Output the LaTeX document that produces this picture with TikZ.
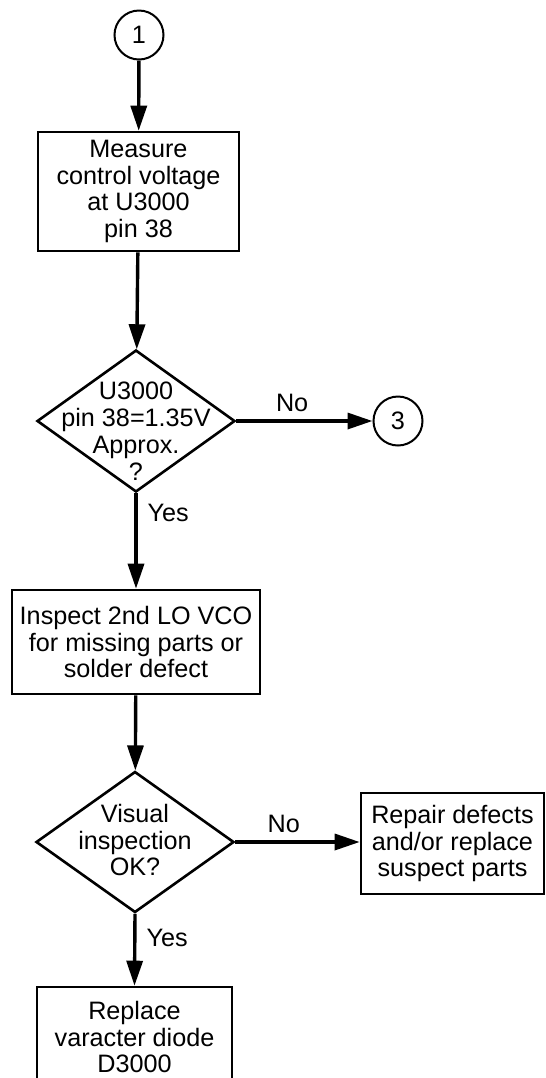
\documentclass[tikz,border=0pt]{standalone}
\usepackage{fontspec}
\setmainfont{Liberation Sans}
\usetikzlibrary{arrows.meta, positioning, shapes.geometric}

\begin{document}
\begin{tikzpicture}[
    x=0.5pt, y=-0.5pt,
    font=\fontsize{12.6}{13.4}\selectfont,
    >={Triangle[length=12.5pt, width=8pt]},
    box/.style={draw, line width=1.3pt, align=center, inner sep=0pt},
    decision/.style={draw, diamond, line width=1.3pt, inner sep=0pt, minimum width=99pt, minimum height=71pt},
    conn/.style={draw, circle, line width=1pt, minimum size=24.5pt, inner sep=0pt},
    line/.style={->, line width=1.7pt},
    lbl/.style={inner sep=4pt}
]
\useasboundingbox (0,0) rectangle (546,1078);

% ===== TOP =====
\node[conn] (c1) at (139,35) {1};
\node[box, minimum width=100.5pt, minimum height=59.5pt] (meas) at (138.5,191.5)
    {Measure\\control voltage\\at U3000\\pin 38};

% ===== FIRST DECISION =====
\node[decision] (d1) at (136,421) {};
\node[align=center] (d1txt) at (136,431) {U3000\\pin 38=1.35V\\Approx.\\?};
\node[conn] (c3) at (398,421) {3};

% ===== INSPECTION =====
\node[box, minimum width=124pt, minimum height=52pt] (insp) at (136,642)
    {Inspect 2nd LO VCO\\for missing parts or\\solder defect};

% ===== SECOND DECISION =====
\node[decision, minimum height=70.5pt] (d2) at (135,842) {};
\node[align=center] (d2txt) at (135,840) {Visual\\inspection\\OK?};

% Repair box to the right
\node[box, minimum width=91.5pt, minimum height=50.5pt] (repair) at (452.5,843.5)
    {Repair defects\\and/or replace\\suspect parts};

% Replace box at bottom
\node[box, minimum width=97.5pt, minimum height=50pt] (repl) at (134.5,1037)
    {Replace\\varacter diode\\D3000};

% ===== CONNECTIONS =====
\draw[line] (c1) -- (meas);
\draw[line] (meas) -- (d1);
\draw[line] (d1.east) -- node[lbl, above, pos=0.41] (no1) {No} (c3);
\draw[line] (d1.south) -- node[lbl, right, pos=0.21, xshift=1pt] (yes1) {Yes} (insp.north);
\draw[line] (insp) -- (d2);
\draw[line] (d2.east) -- node[lbl, above, pos=0.39] (no2) {No} (repair.west |- d2.east);
\draw[line] (d2.south) -- node[lbl, right, pos=0.33, xshift=1pt] (yes2) {Yes} (repl.north);

\end{tikzpicture}
\end{document}
